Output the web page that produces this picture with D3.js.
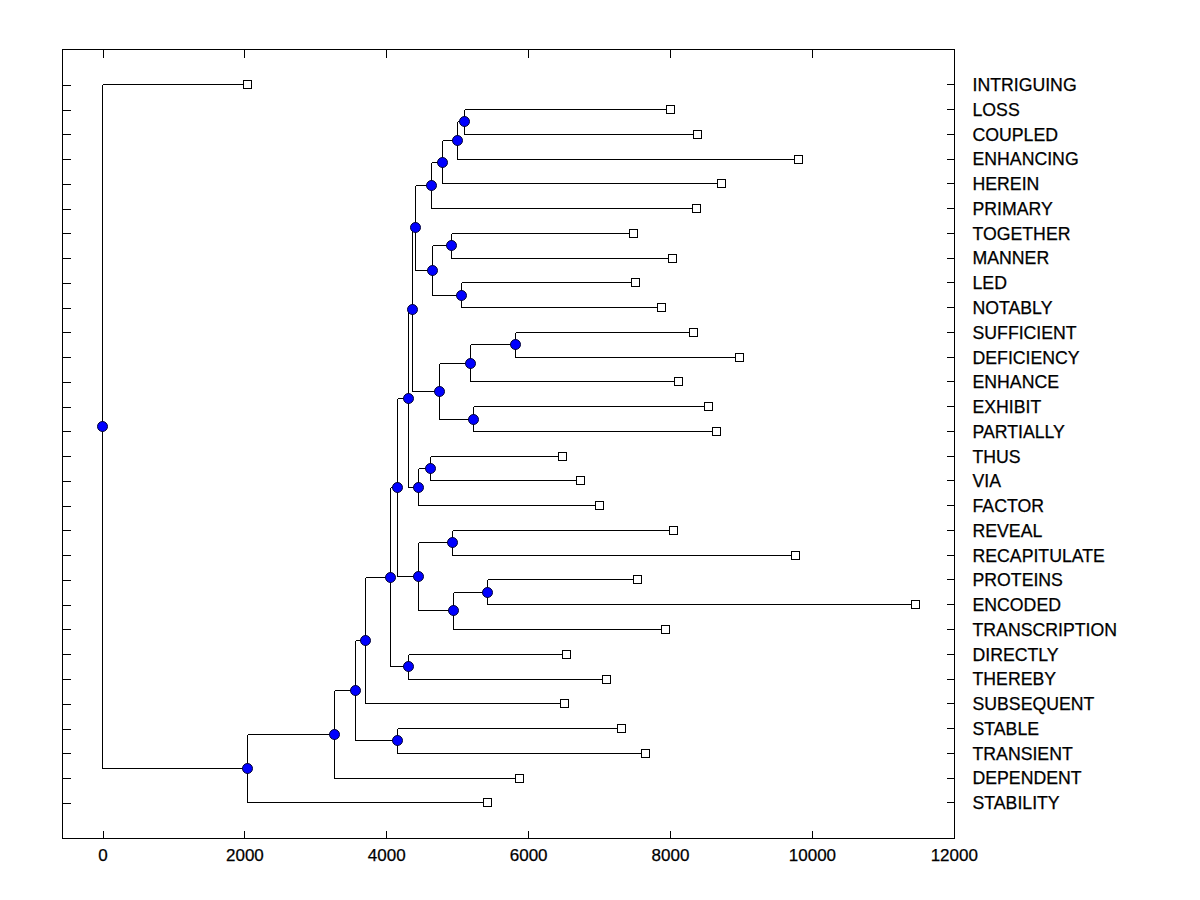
<!DOCTYPE html>
<html>
<head>
<meta charset="utf-8">
<script src="https://cdn.jsdelivr.net/npm/d3@7"></script>
<style>
  html, body { margin: 0; padding: 0; background: #fff; }
  text { font-family: "Liberation Sans", Arial, sans-serif; fill: #000; }
</style>
</head>
<body>
<svg id="chart" width="1200" height="900"></svg>
<script>
// ---- data ----
const leaves = ["INTRIGUING","LOSS","COUPLED","ENHANCING","HEREIN","PRIMARY","TOGETHER","MANNER","LED","NOTABLY",
  "SUFFICIENT","DEFICIENCY","ENHANCE","EXHIBIT","PARTIALLY","THUS","VIA","FACTOR","REVEAL","RECAPITULATE",
  "PROTEINS","ENCODED","TRANSCRIPTION","DIRECTLY","THEREBY","SUBSEQUENT","STABLE","TRANSIENT","DEPENDENT","STABILITY"];
const leafHeights = [2045, 8009, 8390, 9814, 8729, 8376, 7488, 8038, 7516, 7883,
  8334, 8982, 8122, 8545, 8658, 6486, 6740, 7008, 8052, 9772,
  7544, 11460, 7939, 6543, 7107, 6515, 7318, 7657, 5880, 5429];
// merges: [id, child1, child2, merge height]
const merges = [
  ["X", "LOSS", "COUPLED", 5105],
  ["W", "X", "ENHANCING", 5006],
  ["V", "W", "HEREIN", 4794],
  ["T", "V", "PRIMARY", 4635],
  ["Y", "TOGETHER", "MANNER", 4921],
  ["Z", "LED", "NOTABLY", 5062],
  ["U", "Y", "Z", 4653],
  ["R", "T", "U", 4409],
  ["AC", "SUFFICIENT", "DEFICIENCY", 5824],
  ["AA", "AC", "ENHANCE", 5189],
  ["AB", "EXHIBIT", "PARTIALLY", 5231],
  ["S", "AA", "AB", 4752],
  ["N", "R", "S", 4371],
  ["Q", "THUS", "VIA", 4625],
  ["P", "Q", "FACTOR", 4456],
  ["I", "N", "P", 4315],
  ["K", "REVEAL", "RECAPITULATE", 4935],
  ["M", "PROTEINS", "ENCODED", 5425],
  ["L", "M", "TRANSCRIPTION", 4949],
  ["J", "K", "L", 4456],
  ["G", "I", "J", 4160],
  ["H", "DIRECTLY", "THEREBY", 4315],
  ["F", "G", "H", 4061],
  ["D", "F", "SUBSEQUENT", 3704],
  ["E", "STABLE", "TRANSIENT", 4160],
  ["C", "D", "E", 3563],
  ["B", "C", "DEPENDENT", 3271],
  ["A", "B", "STABILITY", 2045],
  ["ROOT", "INTRIGUING", "A", 0]
];
const xTicks = [0, 2000, 4000, 6000, 8000, 10000, 12000];
const xDomain = [-564, 12010];

// ---- layout ----
const svg = d3.select("#chart");
const frame = { left: 62, right: 954, top: 49, bottom: 838 };
const x = d3.scaleLinear().domain(xDomain).range([frame.left, frame.right]);
const y = d3.scaleLinear().domain([0, leaves.length - 1]).range([84.3, 802.3]);

const nodes = new Map();
leaves.forEach((name, i) => nodes.set(name, { name, value: leafHeights[i], pos: i, leaf: true }));
merges.forEach(([id, a, b, h]) => {
  const A = nodes.get(a), B = nodes.get(b);
  nodes.set(id, { name: id, value: h, pos: (A.pos + B.pos) / 2, children: [A, B], leaf: false });
});

// frame
svg.append("rect")
  .attr("x", frame.left + 0.5).attr("y", frame.top + 0.5)
  .attr("width", frame.right - frame.left).attr("height", frame.bottom - frame.top)
  .attr("fill", "none").attr("stroke", "#000").attr("stroke-width", 1);

// axes
const bottomAxis = d3.axisBottom(x).tickValues(xTicks).tickFormat(d3.format("d"))
  .tickSizeInner(-8).tickSizeOuter(0).tickPadding(10);
const gb = svg.append("g").attr("transform", `translate(0.5,${frame.bottom + 0.5})`).call(bottomAxis);
gb.select(".domain").remove();
gb.selectAll("text").attr("font-size", 17).attr("font-family", "Liberation Sans, Arial, sans-serif")
  .attr("fill", "#000").attr("stroke", "#000").attr("stroke-width", 0.25);

const topAxis = d3.axisTop(x).tickValues(xTicks).tickFormat("").tickSizeInner(-8).tickSizeOuter(0);
const gt = svg.append("g").attr("transform", `translate(0.5,${frame.top + 0.5})`).call(topAxis);
gt.select(".domain").remove();

const leafIdx = leaves.map((d, i) => i);
const leftAxis = d3.axisLeft(y).tickValues(leafIdx).tickFormat("").tickSizeInner(-8).tickSizeOuter(0);
const gl = svg.append("g").attr("transform", `translate(${frame.left + 0.5},0.5)`).call(leftAxis);
gl.select(".domain").remove();

const rightAxis = d3.axisRight(y).tickValues(leafIdx).tickFormat(i => leaves[i])
  .tickSizeInner(-8).tickSizeOuter(0).tickPadding(18);
const gr = svg.append("g").attr("transform", `translate(${frame.right + 0.5},0)`).call(rightAxis);
gr.select(".domain").remove();
gr.selectAll("text").attr("font-size", 17.7).attr("dy", "0.36em")
  .attr("font-family", "Liberation Sans, Arial, sans-serif").attr("fill", "#000")
  .attr("stroke", "#000").attr("stroke-width", 0.25);

svg.selectAll(".tick line").attr("shape-rendering", "crispEdges").attr("stroke", "#000");

// branches
const links = svg.append("g").attr("stroke", "#000").attr("stroke-width", 1).attr("fill", "none")
  .attr("shape-rendering", "crispEdges");
const mergeNodes = merges.map(m => nodes.get(m[0]));
mergeNodes.forEach(n => {
  const [A, B] = n.children;
  const px = Math.round(x(n.value)) + 0.5;
  links.append("line").attr("x1", px).attr("x2", px)
    .attr("y1", Math.round(y(A.pos)) + 0.5).attr("y2", Math.round(y(B.pos)) + 0.5);
  [A, B].forEach(c => {
    const cy = Math.round(y(c.pos)) + 0.5;
    links.append("line").attr("x1", px).attr("x2", Math.round(x(c.value)) + 0.5)
      .attr("y1", cy).attr("y2", cy);
  });
});

// internal node markers
svg.append("g").selectAll("circle").data(mergeNodes).join("circle")
  .attr("cx", d => Math.round(x(d.value)) + 0.5)
  .attr("cy", d => Math.round(y(d.pos)) + 0.5)
  .attr("r", 5)
  .attr("fill", "#0000ff").attr("stroke", "#000033").attr("stroke-width", 1);

// leaf markers
const leafNodes = leaves.map(n => nodes.get(n));
svg.append("g").selectAll("rect").data(leafNodes).join("rect")
  .attr("x", d => Math.round(x(d.value)) - 3.5)
  .attr("y", d => Math.round(y(d.pos)) - 3.5)
  .attr("width", 8).attr("height", 8)
  .attr("fill", "#fff").attr("stroke", "#000").attr("stroke-width", 1)
  .attr("shape-rendering", "crispEdges");
</script>
</body>
</html>
